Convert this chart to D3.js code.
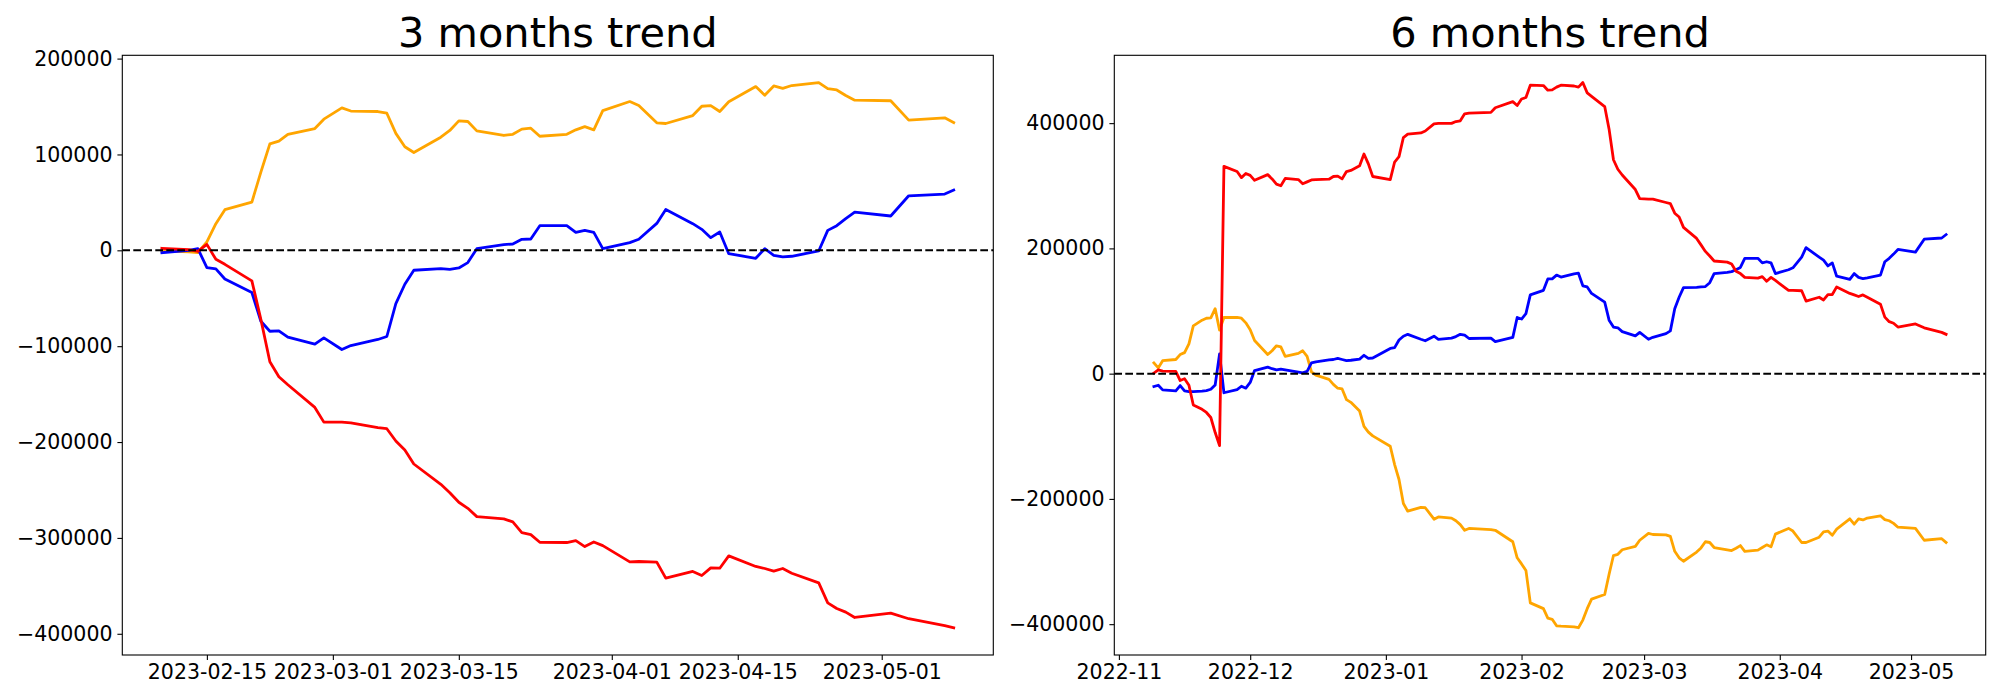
<!DOCTYPE html>
<html>
<head>
<meta charset="utf-8">
<script src="https://cdn.jsdelivr.net/npm/d3@7/dist/d3.min.js"></script>
<style>
  html, body { margin: 0; padding: 0; background: #fff; }
  svg { display: block; }
</style>
</head>
<body>
<svg id="chart" width="2000" height="700"></svg>
<script>
// ---------------- DATA ----------------
const leftTitle = "3 months trend";
const rightTitle = "6 months trend";

const leftDates = ["2023-02-10","2023-02-13","2023-02-14","2023-02-15","2023-02-16","2023-02-17",
  "2023-02-20","2023-02-21","2023-02-22","2023-02-23","2023-02-24","2023-02-27","2023-02-28",
  "2023-03-02","2023-03-03","2023-03-06","2023-03-07","2023-03-08","2023-03-09","2023-03-10",
  "2023-03-13","2023-03-14","2023-03-15","2023-03-16","2023-03-17","2023-03-20","2023-03-21",
  "2023-03-22","2023-03-23","2023-03-24","2023-03-27","2023-03-28","2023-03-29","2023-03-30",
  "2023-03-31","2023-04-03","2023-04-04","2023-04-06","2023-04-07","2023-04-10","2023-04-11",
  "2023-04-12","2023-04-13","2023-04-14","2023-04-17","2023-04-18","2023-04-19","2023-04-20",
  "2023-04-21","2023-04-24","2023-04-25","2023-04-26","2023-04-27","2023-04-28","2023-05-02",
  "2023-05-04","2023-05-08","2023-05-09"];

const leftRed = [2100,700,-1000,6200,-9400,-14600,-31900,-72000,-116300,-131900,-140200,-163900,-179200,
  -179200,-179900,-185000,-186100,-198900,-208300,-222900,-244100,-252800,-262800,-269100,-277800,
  -280200,-283300,-294400,-296500,-304500,-304800,-302800,-309000,-304200,-308000,-325000,-324600,
  -325300,-342000,-335000,-339200,-331200,-331600,-318700,-329800,-331900,-334700,-331900,-336800,
  -346900,-367700,-373600,-377400,-383000,-378400,-384300,-391600,-393700];

const leftBlue = [-2400,0,1700,-18100,-19400,-29900,-44100,-74000,-84400,-84000,-90600,-97900,-91300,
  -103500,-99300,-93000,-89900,-55600,-35400,-20800,-19100,-19800,-18400,-12800,1700,5900,6600,
  11500,11800,25700,25700,18700,20800,18700,1700,8000,11500,28100,42700,27800,21900,13200,19100,
  -3500,-8300,1700,-5200,-6900,-6200,-700,20800,25700,33000,39900,35800,56900,58700,62800];

const leftOrange = [-700,-1700,-2400,8700,27800,42400,50300,81600,111000,113900,121000,127000,136800,
  148600,145300,144800,143000,122000,108000,102000,118000,125000,135000,134400,124600,119800,121000,
  126400,127400,119000,121000,125700,129000,125700,145800,155200,151000,133000,132300,140600,150300,
  151000,144800,154900,170800,161800,171500,169000,171900,175000,168700,167300,161500,156600,156000,
  135800,138200,133300];

const rightDates = ["2022-11-09","2022-11-10","2022-11-11","2022-11-14","2022-11-15","2022-11-16",
  "2022-11-17","2022-11-18","2022-11-20","2022-11-21","2022-11-22","2022-11-23","2022-11-24",
  "2022-11-25","2022-11-28","2022-11-29","2022-11-30",
  "2022-12-01","2022-12-02","2022-12-05","2022-12-06","2022-12-07","2022-12-08","2022-12-09",
  "2022-12-12","2022-12-13","2022-12-14","2022-12-15","2022-12-16","2022-12-19","2022-12-20",
  "2022-12-21","2022-12-22","2022-12-23","2022-12-24","2022-12-26","2022-12-27","2022-12-28","2022-12-29",
  "2023-01-02","2023-01-03","2023-01-04","2023-01-05","2023-01-06","2023-01-09","2023-01-10",
  "2023-01-12","2023-01-13","2023-01-16","2023-01-17","2023-01-18","2023-01-19","2023-01-20",
  "2023-01-25","2023-01-26","2023-01-30","2023-01-31",
  "2023-02-01","2023-02-02","2023-02-03","2023-02-06","2023-02-07","2023-02-08","2023-02-09",
  "2023-02-10","2023-02-13","2023-02-14","2023-02-15","2023-02-16","2023-02-17","2023-02-20",
  "2023-02-21","2023-02-22","2023-02-23","2023-02-24","2023-02-27","2023-02-28",
  "2023-03-02","2023-03-03","2023-03-06","2023-03-07","2023-03-08","2023-03-09","2023-03-10",
  "2023-03-13","2023-03-14","2023-03-15","2023-03-16","2023-03-17","2023-03-20","2023-03-21",
  "2023-03-22","2023-03-23","2023-03-24","2023-03-27","2023-03-28","2023-03-29","2023-03-30","2023-03-31",
  "2023-04-03","2023-04-04","2023-04-06","2023-04-07","2023-04-10","2023-04-11","2023-04-12",
  "2023-04-13","2023-04-14","2023-04-17","2023-04-18","2023-04-19","2023-04-20","2023-04-21",
  "2023-04-24","2023-04-25","2023-04-26","2023-04-27","2023-04-28",
  "2023-05-02","2023-05-04","2023-05-08","2023-05-09"];

const rightRed = [1000,6000,4000,3700,-11000,-8200,-18600,-50000,-57000,-62000,-70000,-94000,-115000,
  331000,322700,313000,319600,
  316600,308700,317800,311000,302600,300100,311700,309900,303200,306200,309300,309900,310500,314800,
  315400,311000,322700,324500,331800,350800,335000,314800,
  309900,337900,346500,377000,382500,384300,387400,398900,399600,399600,402600,403800,414800,416000,
  417200,424600,434300,428200,
  438600,441000,460600,460000,452600,453200,457500,460600,459300,457500,464800,448400,442900,426400,
  390400,341600,326400,317200,294000,279400,
  278800,278800,273300,271500,256200,250100,233600,215900,205600,195200,187900,179900,178100,175100,
  163500,159800,153700,152500,154900,147600,153700,148800,
  133000,133000,132400,115900,122000,117700,126300,126300,138500,128100,125700,123200,125700,122000,
  111000,90300,83000,80500,74400,
  79300,73200,65900,62800];

const rightBlue = [-20600,-18500,-25900,-27500,-19000,-27500,-28600,-28600,-28000,-27000,-24900,-18000,31500,
  -30500,-25600,-20100,-23200,
  -14000,4900,10400,7900,6100,7300,6100,2400,1200,3700,17100,18900,22000,22600,24400,22600,20700,21400,
  23200,29300,24400,25000,
  40300,41500,53700,59800,62800,54900,52500,59800,54900,56700,59200,62800,61600,56100,56700,51200,
  58000,89700,
  87200,95800,125700,133000,151300,151300,157400,154300,159200,160400,140300,138500,128100,114100,
  85400,74400,73200,67100,60400,65900,
  54900,58000,64000,68300,103700,122000,137300,137900,138500,139100,145200,159800,161700,162900,
  165900,169600,184200,184200,176900,178700,176900,159800,
  165900,169000,186000,201300,186000,181200,172000,176900,155600,150700,159800,153700,151900,153100,
  157400,178700,184200,190900,198300,
  194000,214700,216600,222000];

const rightOrange = [17100,9200,20700,22600,30500,33600,47600,76300,85400,88500,89000,103700,69500,
  89700,89700,88500,81100,
  70200,53000,30500,36600,44500,42700,27500,32300,36600,27500,3000,-2400,-9200,-17100,-23200,-24400,
  -41500,-45800,-59800,-84200,-93300,-99400,
  -115900,-145200,-169000,-207400,-219600,-213500,-214100,-232400,-228800,-230600,-234900,-241000,
  -250100,-247100,-248900,-250100,-268400,-294000,
  -303800,-314200,-366000,-375200,-390400,-392200,-402600,-403200,-404400,-405700,-393500,-375200,
  -359900,-352600,-320300,-290400,-288500,-281200,-275700,-266000,
  -255000,-256800,-257400,-259900,-283700,-294000,-299500,-284900,-278200,-268400,-269600,-277600,
  -281200,-282400,-278800,-274500,-283700,-281800,-277600,-273300,-276300,-256200,
  -247100,-251300,-269600,-269600,-261100,-252500,-251300,-258000,-248300,-231800,-240300,-231800,
  -233600,-230600,-226900,-233000,-234900,-239100,-245200,
  -247100,-266000,-263500,-269600];

const leftXTicks = ["2023-02-15","2023-03-01","2023-03-15","2023-04-01","2023-04-15","2023-05-01"];
const rightXTicks = ["2022-11-01","2022-12-01","2023-01-01","2023-02-01","2023-03-01","2023-04-01","2023-05-01"];
const leftYTicks = [-400000,-300000,-200000,-100000,0,100000,200000];
const rightYTicks = [-400000,-200000,0,200000,400000];

const seriesColors = { red: "#ff0000", blue: "#0000ff", orange: "#ffa500" };

// ---------------- DRAW ----------------
const svg = d3.select("#chart");
const parse = d3.utcParse("%Y-%m-%d");
const FONT = "DejaVu Sans";

function panel(opts) {
  const { x0, x1, y0, y1, dates, series, xTicks, xFormat, yTicks, title } = opts;
  const ds = dates.map(parse);
  const t0 = d3.min(ds), t1 = d3.max(ds);
  const tp = (t1 - t0) * 0.05;
  const x = d3.scaleUtc().domain([new Date(+t0 - tp), new Date(+t1 + tp)]).range([x0, x1]);

  const allVals = series.flatMap(s => s.values);
  const vmin = d3.min(allVals), vmax = d3.max(allVals);
  const vp = (vmax - vmin) * 0.05;
  const y = d3.scaleLinear().domain([vmin - vp, vmax + vp]).range([y1, y0]);

  const g = svg.append("g");

  // series
  const line = d3.line().x(d => x(d[0])).y(d => y(d[1]));
  series.forEach(s => {
    g.append("path")
      .datum(ds.map((d, i) => [d, s.values[i]]))
      .attr("d", line)
      .attr("fill", "none")
      .attr("stroke", s.color)
      .attr("stroke-width", 2.8)
      .attr("stroke-linejoin", "round")
      .attr("stroke-linecap", "square");
  });

  // zero line
  g.append("line")
    .attr("x1", x0).attr("x2", x1)
    .attr("y1", y(0)).attr("y2", y(0))
    .attr("stroke", "#000")
    .attr("stroke-width", 2)
    .attr("stroke-dasharray", "7.7,3.3");

  // frame
  g.append("rect")
    .attr("x", x0).attr("y", y0)
    .attr("width", x1 - x0).attr("height", y1 - y0)
    .attr("fill", "none").attr("stroke", "#000").attr("stroke-width", 1.1);

  // axes
  const xa = g.append("g").attr("transform", `translate(0,${y1})`)
    .call(d3.axisBottom(x).tickValues(xTicks.map(parse)).tickFormat(d3.utcFormat(xFormat))
      .tickSize(4.9).tickPadding(4.9));
  const ya = g.append("g").attr("transform", `translate(${x0},0)`)
    .call(d3.axisLeft(y).tickValues(yTicks).tickFormat(d3.format("d"))
      .tickSize(4.9).tickPadding(4.9));
  [xa, ya].forEach(a => {
    a.attr("font-family", FONT).attr("font-size", 20.5);
    a.select(".domain").remove();
    a.selectAll(".tick line").attr("stroke", "#000").attr("stroke-width", 1.1);
    a.selectAll(".tick text").attr("fill", "#000");
  });

  // title
  g.append("text")
    .attr("x", (x0 + x1) / 2).attr("y", 47)
    .attr("text-anchor", "middle")
    .attr("font-family", FONT).attr("font-size", 41.5)
    .attr("fill", "#000")
    .text(title);
}

panel({
  x0: 122.3, x1: 993.3, y0: 55.3, y1: 655,
  dates: leftDates,
  series: [
    { values: leftOrange, color: seriesColors.orange },
    { values: leftBlue, color: seriesColors.blue },
    { values: leftRed, color: seriesColors.red }
  ],
  xTicks: leftXTicks, xFormat: "%Y-%m-%d", yTicks: leftYTicks, title: leftTitle
});

panel({
  x0: 1114.3, x1: 1985.7, y0: 55.3, y1: 655,
  dates: rightDates,
  series: [
    { values: rightOrange, color: seriesColors.orange },
    { values: rightBlue, color: seriesColors.blue },
    { values: rightRed, color: seriesColors.red }
  ],
  xTicks: rightXTicks, xFormat: "%Y-%m", yTicks: rightYTicks, title: rightTitle
});
</script>
</body>
</html>
